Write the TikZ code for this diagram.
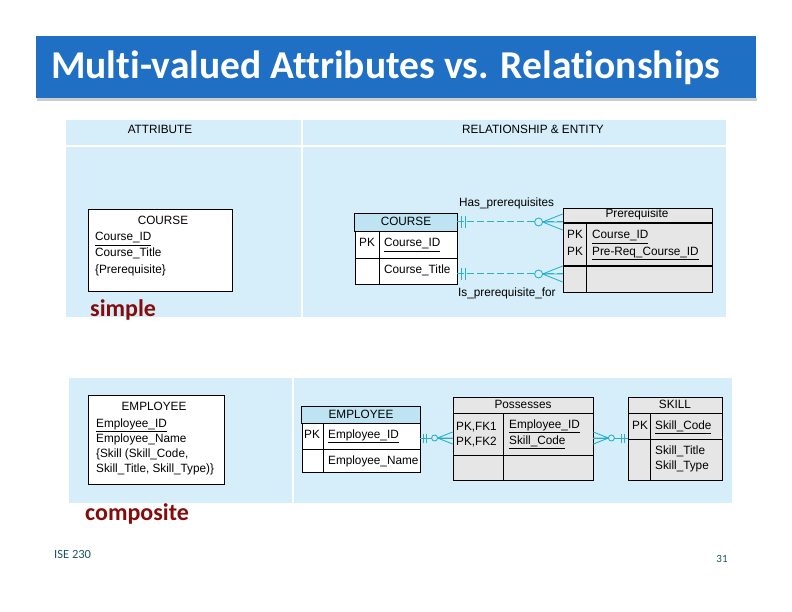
\documentclass[tikz,border=0pt]{standalone}
\usepackage{fontspec}
\setmainfont{Liberation Sans}[FakeStretch=0.98]
\newfontfamily\slidefont{Carlito}[Ligatures=NoCommon]
\usetikzlibrary{positioning, calc}

\definecolor{titleblue}{HTML}{1F70C4}
\definecolor{panelblue}{HTML}{D6EEF9}
\definecolor{headblue}{HTML}{BEE3F3}
\definecolor{tblgray}{HTML}{E6E6E6}
\definecolor{relcyan}{HTML}{2AB0CC}
\definecolor{labelred}{HTML}{850C0C}
\definecolor{footteal}{HTML}{1E5566}

\newcommand\keyul[1]{\underline{#1}}

\tikzset{
  zeromany/.pic={
    \draw[relcyan, line width=0.9pt] (-20,0) -- (0,-8) (-20,0) -- (0,0) (-20,0) -- (0,8);
    \draw[relcyan, line width=0.9pt, fill=panelblue] (-24,0) circle (4pt);},
  onlyone/.pic={
    \draw[relcyan, line width=0.9pt] (4,-6) -- (4,6) (8,-6) -- (8,6);}
}

\begin{document}
\begin{tikzpicture}[x=1pt, y=-1pt, font=\fontsize{12}{14}\selectfont,
    txt/.style={inner sep=0pt, text height=8.5pt, text depth=2.5pt},
    lt/.style={txt, anchor=west},
    tbl/.style={draw, line width=0.8pt, inner sep=0pt, fill=white},
    gtbl/.style={tbl, fill=tblgray},
    relline/.style={draw=relcyan, line width=1pt},
    reldash/.style={relline, dash pattern=on 7pt off 3pt},
    redlbl/.style={anchor=west, inner sep=0pt, text=labelred, font=\slidefont\bfseries\fontsize{24}{26}\selectfont},
    foottxt/.style={inner sep=0pt, text=footteal, font=\slidefont\fontsize{12.5}{14}\selectfont}]
    \useasboundingbox[fill=white] (0,0) rectangle (792,612);

    % title bar
    \fill[gray!40] (37,98) rectangle (757,101);
    \fill[titleblue] (36,36) rectangle (756,98);
    \node[anchor=base west, inner sep=0pt, text=white, font=\slidefont\bfseries\fontsize{39.5}{42}\selectfont] (ttl) at (51,79) {Multi-valued Attributes vs. Relationships};

    % panels
    \fill[panelblue] (66,120) rectangle (300.5,145);
    \fill[panelblue] (66,147) rectangle (300.5,317);
    \fill[panelblue] (303,120) rectangle (726,145);
    \fill[panelblue] (303,147) rectangle (726,317);
    \fill[panelblue] (69,378) rectangle (292,503);
    \fill[panelblue] (294,378) rectangle (732,503);
    \node[txt] (hdAttr) at (160,131) {ATTRIBUTE};
    \node[txt] (hdRel) at (533,131) {RELATIONSHIP \& ENTITY};

    % simple: attribute form
    \node[tbl, minimum width=144pt, minimum height=82pt] (crsA) at (160,250) {};
    \node[txt] (crsAName) at (163,222) {COURSE};
    \node[lt] (crsAId) at (95,238) {\keyul{Course\_ID}};
    \node[lt] (crsATitle) at (95,254) {Course\_Title};
    \node[lt] (crsAPre) at (95,270) {\{Prerequisite\}};
    \node[redlbl] (lblSimple) at (90,310) {simple};

    % simple: relationship form
    \node[tbl, minimum width=102pt, minimum height=70pt] (crsT) at (406,249) {};
    \filldraw[fill=headblue, line width=0.8pt] (crsT.north west) rectangle (457,231);
    \draw[line width=0.8pt] (355,258) -- (457,258) (379,231) -- (379,284);
    \node[txt] (crsTName) at (406,222.5) {COURSE};
    \node[txt] (crsTPk) at (367,244) {PK};
    \node[lt] (crsTId) at (384,244) {\keyul{Course\_ID}};
    \node[lt] (crsTTitle) at (384,270) {Course\_Title};

    \node[gtbl, minimum width=149pt, minimum height=84pt] (prqT) at (637.5,250) {};
    \draw[line width=1.5pt] (563,223) -- (712,223) (563,266) -- (712,266);
    \draw[line width=0.8pt] (586,223) -- (586,292);
    \node[txt] (prqTName) at (637,215) {Prerequisite};
    \node[txt] (prqTPk1) at (575,236) {PK};
    \node[txt] (prqTPk2) at (575,253) {PK};
    \node[lt] (prqTId) at (592,236) {\keyul{Course\_ID}};
    \node[lt] (prqTReq) at (592,252) {\keyul{Pre-Req\_Course\_ID}};

    \coordinate (hasL) at (crsT.east |- 0,222);
    \coordinate (hasR) at (prqT.west |- 0,222);
    \coordinate (isL) at (crsT.east |- 0,274);
    \coordinate (isR) at (prqT.west |- 0,274);
    \draw[reldash] (hasL) -- (hasR);
    \draw[reldash] (isL) -- (isR);
    \pic at (hasL) {onlyone};
    \pic at (hasR) {zeromany};
    \pic at (isL) {onlyone};
    \pic at (isR) {zeromany};
    \node[lt] (lblHas) at (459,204) {Has\_prerequisites};
    \node[lt] (lblIs) at (458,293) {Is\_prerequisite\_for};

    % composite: attribute form
    \node[tbl, minimum width=136pt, minimum height=89pt] (empA) at (156,439.5) {};
    \node[txt] (empAName) at (154,407) {EMPLOYEE};
    \node[lt] (empAId) at (96,424) {\keyul{Employee\_ID}};
    \node[lt] (empAN) at (96,439) {Employee\_Name};
    \node[lt] (empASk1) at (96,454) {\{Skill (Skill\_Code,};
    \node[lt] (empASk2) at (96,469) {Skill\_Title, Skill\_Type)\}};
    \node[redlbl] (lblComp) at (85,514) {composite};

    % composite: relationship form
    \node[tbl, minimum width=118pt, minimum height=65pt] (empT) at (361,439.5) {};
    \filldraw[fill=headblue, line width=0.8pt] (empT.north west) rectangle (420,423);
    \draw[line width=0.8pt] (302,449) -- (420,449) (323,423) -- (323,472);
    \node[txt] (empTName) at (361,415) {EMPLOYEE};
    \node[txt] (empTPk) at (312,435) {PK};
    \node[lt] (empTId) at (328,435) {\keyul{Employee\_ID}};
    \node[lt] (empTN) at (328,461) {Employee\_Name};

    \node[gtbl, minimum width=140pt, minimum height=83pt] (posT) at (523,438.5) {};
    \draw[line width=0.8pt] (453,413) -- (593,413) (453,455) -- (593,455) (503,413) -- (503,480);
    \node[txt] (posTName) at (523,405) {Possesses};
    \node[lt] (posTK1) at (456,427) {PK,FK1};
    \node[lt] (posTK2) at (456,442) {PK,FK2};
    \node[lt] (posTId) at (509,425) {\keyul{Employee\_ID}};
    \node[lt] (posTSk) at (509,441) {\keyul{Skill\_Code}};

    \node[gtbl, minimum width=94pt, minimum height=83pt] (sklT) at (675,438.5) {};
    \draw[line width=0.8pt] (628,413) -- (722,413) (628,439) -- (722,439) (650,413) -- (650,480);
    \node[txt] (sklTName) at (675,405) {SKILL};
    \node[txt] (sklTPk) at (640,426) {PK};
    \node[lt] (sklTCode) at (655,426) {\keyul{Skill\_Code}};
    \node[lt] (sklTTitle) at (655,451) {Skill\_Title};
    \node[lt] (sklTType) at (655,466) {Skill\_Type};

    \coordinate (ownL) at (empT.east |- 0,438);
    \coordinate (ownR) at (posT.west |- 0,438);
    \coordinate (hasSkL) at (posT.east |- 0,438);
    \coordinate (hasSkR) at (sklT.west |- 0,438);
    \draw[relline] (ownL) -- (ownR);
    \draw[relline] (hasSkL) -- (hasSkR);
    \pic[scale=0.75] at (ownL) {onlyone};
    \pic[scale=0.75] at (ownR) {zeromany};
    \pic[scale=0.75, rotate=180] at (hasSkL) {zeromany};
    \pic[scale=0.75, rotate=180] at (hasSkR) {onlyone};

    % footer
    \node[foottxt, anchor=west] (foot) at (54,554) {ISE 230};
    \node[foottxt, font=\slidefont\fontsize{11}{13}\selectfont] (pgno) at (722,559) {31};
\end{tikzpicture}
\end{document}
